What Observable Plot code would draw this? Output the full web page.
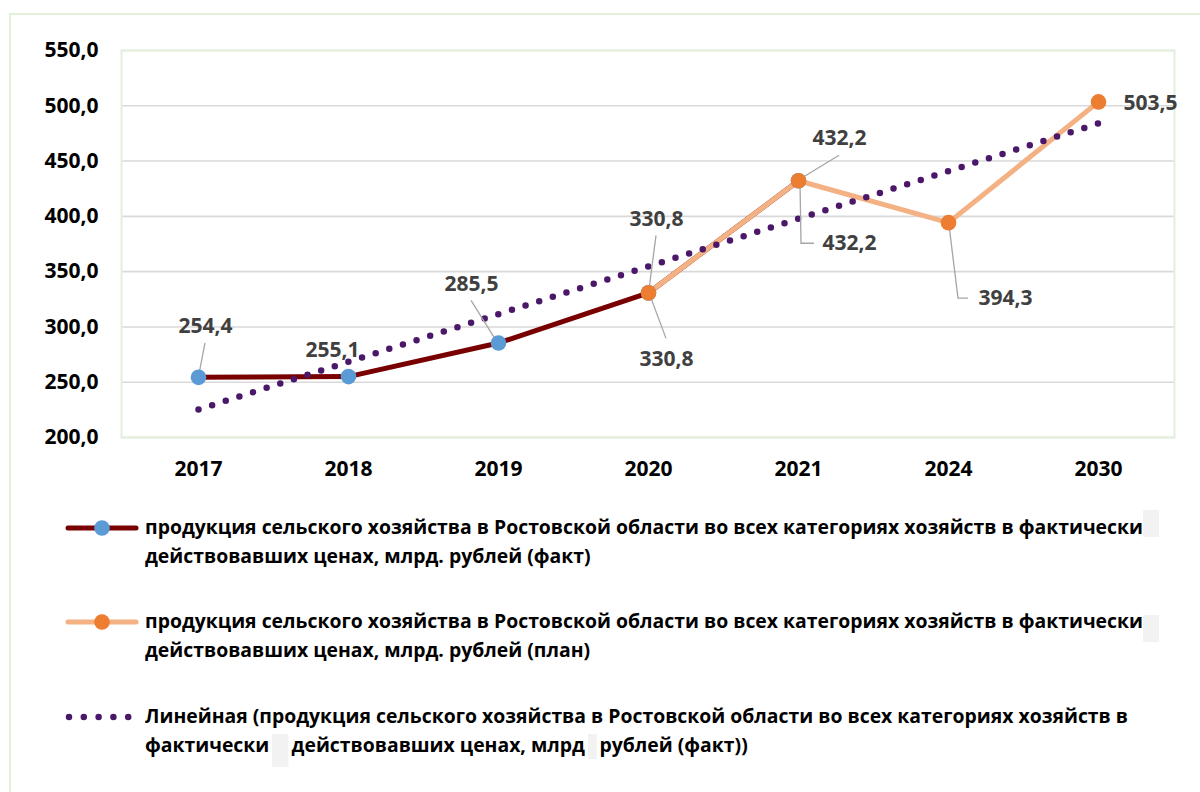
<!DOCTYPE html>
<html>
<head>
<meta charset="utf-8">
<script src="https://cdn.jsdelivr.net/npm/d3@7"></script>
<script src="https://cdn.jsdelivr.net/npm/@observablehq/plot@0.6"></script>
<style>
  html, body { margin: 0; padding: 0; background: #fff; overflow: hidden; }
  #page { position: relative; width: 1200px; height: 792px; overflow: hidden; font-family: "Open Sans", sans-serif; }
  #outer { position: absolute; left: 9px; top: 13px; width: 1400px; height: 1000px; border-left: 2px solid #e2efd9; border-top: 2px solid #e2efd9; }
  #chart { position: absolute; left: 0; top: 0; }
  .lg { position: absolute; left: 145px; font-weight: 700; color: #000; white-space: nowrap; line-height: 29px; transform-origin: 0 50%; }
  .sym { position: absolute; left: 0; top: 0; }
  .gbox { display: inline-block; background: #f2f2f2; vertical-align: top; position: relative; }
</style>
</head>
<body>
<div id="page">
  <div id="outer"></div>
  <div id="chart"></div>
  <svg class="sym" width="200" height="792" id="legendSyms"></svg>
  <div class="lg" id="l1a"></div>
  <div class="lg" id="l1b"></div>
  <div class="lg" id="l2a"></div>
  <div class="lg" id="l2b"></div>
  <div class="lg" id="l3a"></div>
  <div class="lg" id="l3b"></div>
</div>
<script>
// ---- data ----
const years = ["2017", "2018", "2019", "2020", "2021", "2024", "2030"];
const factYears = ["2017", "2018", "2019", "2020", "2021"];
const factValues = [254.4, 255.1, 285.5, 330.8, 432.2];
const planYears = ["2020", "2021", "2024", "2030"];
const planValues = [330.8, 432.2, 394.3, 503.5];
const trendYears = ["2017", "2030"];
const trendValues = [225.3, 484.1];
const yTicks = [200, 250, 300, 350, 400, 450, 500, 550];

const legendFact = ["продукция сельского хозяйства в Ростовской области во всех категориях хозяйств в фактически",
                    "действовавших ценах, млрд. рублей (факт)"];
const legendPlan = ["продукция сельского хозяйства в Ростовской области во всех категориях хозяйств в фактически",
                    "действовавших ценах, млрд. рублей (план)"];
const legendTrend = ["Линейная (продукция сельского хозяйства в Ростовской области во всех категориях хозяйств в",
                     "фактически", "действовавших ценах, млрд", "рублей (факт))"];

const fact = factYears.map((year, i) => ({year, value: factValues[i]}));
const plan = planYears.map((year, i) => ({year, value: planValues[i]}));
const trend = trendYears.map((year, i) => ({year, value: trendValues[i]}));

const fmt = v => v.toFixed(1).replace(".", ",");

// label placement (pixel offsets from the data point)
const labelLayout = [
  {series: "fact", year: "2017", dx: 7,  dy: -51, leader: [[7, -34], [1, -3]]},
  {series: "fact", year: "2018", dx: -16, dy: -26, leader: null},
  {series: "fact", year: "2019", dx: -27, dy: -59, leader: [[-27, -42], [-2, -2]]},
  {series: "fact", year: "2020", dx: 18, dy: 66, leader: [[18, 46], [2, 3]]},
  {series: "fact", year: "2021", dx: 51, dy: 63, leader: [[2, 2], [3, 63], [16, 63]]},
  {series: "plan", year: "2020", dx: 8,  dy: -74, leader: [[8, -57], [1, -3]]},
  {series: "plan", year: "2021", dx: 41, dy: -42, leader: [[41, -25], [5, -3]]},
  {series: "plan", year: "2024", dx: 57, dy: 76, leader: [[1, 3], [10, 76], [20, 76]]},
  {series: "plan", year: "2030", dx: 52, dy: 1, leader: null}
];
const seriesData = {fact, plan};
const labels = labelLayout.map(l => ({...l, value: seriesData[l.series].find(d => d.year === l.year).value}));

const FONT = "'Open Sans', sans-serif";

const leaderMark = (index, scales) => {
  const g = d3.create("svg:g");
  for (const l of labels) {
    if (!l.leader) continue;
    const px = scales.x(l.year), py = scales.y(l.value);
    g.append("path")
      .attr("d", "M" + l.leader.map(([dx, dy]) => `${px + dx},${py + dy}`).join("L"))
      .attr("fill", "none")
      .attr("stroke", "#a6a6a6")
      .attr("stroke-width", 1.3);
  }
  return g.node();
};

const chart = Plot.plot({
  width: 1200,
  height: 490,
  marginLeft: 121,
  marginRight: 26,
  marginTop: 50,
  marginBottom: 53,
  style: {fontFamily: FONT, background: "transparent", overflow: "visible"},
  x: {type: "point", domain: years, padding: 0.5},
  y: {domain: [200, 550]},
  marks: [
    Plot.gridY({ticks: yTicks, stroke: "#d9d9d9", strokeOpacity: 1, strokeWidth: 1.6}),
    Plot.frame({stroke: "#e2efd9", strokeWidth: 2}),
    Plot.axisY({ticks: yTicks, tickSize: 0, tickPadding: 23, tickFormat: fmt, fontSize: 21, fontWeight: 700, fill: "#000", label: null}),
    Plot.axisX({tickSize: 0, tickPadding: 24, fontSize: 21, fontWeight: 700, fill: "#000", label: null}),
    Plot.line(fact, {x: "year", y: "value", stroke: "#790000", strokeWidth: 5, strokeLinecap: "round", strokeLinejoin: "round"}),
    Plot.line(plan, {x: "year", y: "value", stroke: "#f4b183", strokeWidth: 5, strokeLinecap: "round", strokeLinejoin: "round"}),
    Plot.line(trend, {x: "year", y: "value", stroke: "#4b1869", strokeWidth: 6.5, strokeDasharray: "0 14.3", strokeLinecap: "round"}),
    leaderMark,
    Plot.dot(fact, {x: "year", y: "value", r: 7.8, fill: "#5b9bd5", stroke: null}),
    Plot.dot(plan, {x: "year", y: "value", r: 7.8, fill: "#ed7d31", stroke: null}),
    ...labels.map(l => Plot.text([l], {x: "year", y: "value", text: d => fmt(d.value), dx: l.dx, dy: l.dy,
      fontSize: 21, fontWeight: 700, fill: "#404040"}))
  ]
});
document.getElementById("chart").appendChild(chart);

// ---- legend ----
const fs = 20;
const canvas = document.createElement("canvas").getContext("2d");
canvas.font = `700 ${fs}px 'Open Sans'`;
const w = canvas.measureText(legendFact[0]).width;
const sx = 998 / w;

const rows = [
  {id: "l1a", text: legendFact[0], base: 534},
  {id: "l1b", text: legendFact[1], base: 563},
  {id: "l2a", text: legendPlan[0], base: 628},
  {id: "l2b", text: legendPlan[1], base: 657},
  {id: "l3a", text: legendTrend[0], base: 723},
];
function topFor(base) {
  const content = 1.362 * fs;
  return base - ((29 - content) / 2 + 1.069 * fs);
}
for (const r of rows) {
  const el = document.getElementById(r.id);
  el.textContent = r.text;
  el.style.fontSize = fs + "px";
  el.style.top = topFor(r.base) + "px";
  el.style.transform = `scaleX(${sx})`;
}
const l3b = document.getElementById("l3b");
l3b.style.fontSize = fs + "px";
l3b.style.top = topFor(752) + "px";
l3b.style.transform = `scaleX(${sx})`;
l3b.innerHTML = legendTrend[1] + '<span class="gbox" style="width:17px;height:33px;margin:0 3px;top:4px"></span>' +
  legendTrend[2] + '<span class="gbox" style="width:9px;height:25px;margin:0 3px;top:4px"></span>' + legendTrend[3];

// artifact boxes at the right of the first two legend entries
for (const t of [510, 615]) {
  const b = document.createElement("div");
  b.style.cssText = `position:absolute;left:1143px;top:${t}px;width:16px;height:27px;background:#f2f2f2;`;
  document.getElementById("page").appendChild(b);
}

const syms = d3.select("#legendSyms");
syms.append("line").attr("x1", 68).attr("x2", 136).attr("y1", 528).attr("y2", 528)
  .attr("stroke", "#790000").attr("stroke-width", 5).attr("stroke-linecap", "round");
syms.append("circle").attr("cx", 102).attr("cy", 528).attr("r", 7.8).attr("fill", "#5b9bd5");
syms.append("line").attr("x1", 68).attr("x2", 136).attr("y1", 622).attr("y2", 622)
  .attr("stroke", "#f4b183").attr("stroke-width", 5).attr("stroke-linecap", "round");
syms.append("circle").attr("cx", 102).attr("cy", 622).attr("r", 7.8).attr("fill", "#ed7d31");
syms.append("line").attr("x1", 69).attr("x2", 135).attr("y1", 717).attr("y2", 717)
  .attr("stroke", "#4b1869").attr("stroke-width", 6.5).attr("stroke-dasharray", "0 14.8").attr("stroke-linecap", "round");
</script>
</body>
</html>
